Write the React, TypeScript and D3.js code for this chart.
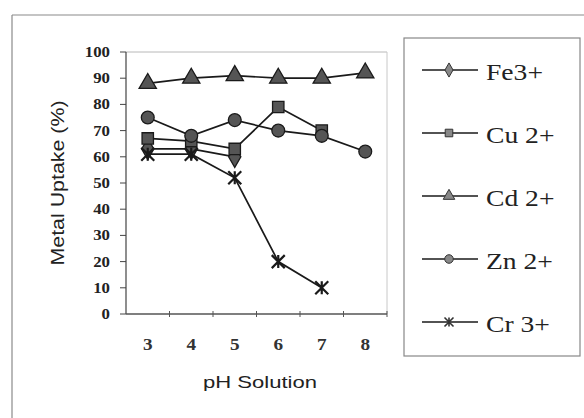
import React from "react";
import * as d3 from "d3";

const categories = ["3", "4", "5", "6", "7", "8"];
const seriesNames = ["Fe3+", "Cu 2+", "Cd 2+", "Zn 2+", "Cr 3+"];
const fe: (number | null)[] = [63, 63, 60, null, null, null];
const cu: (number | null)[] = [67, 66, 63, 79, 70, null];
const cd: (number | null)[] = [88, 90, 91, 90, 90, 92];
const zn: (number | null)[] = [75, 68, 74, 70, 68, 62];
const cr: (number | null)[] = [61, 61, 52, 20, 10, null];
const yTicks = [0, 10, 20, 30, 40, 50, 60, 70, 80, 90, 100];
const markerTypes = ["diamond", "square", "triangle", "circle", "star"];

const allSeries = [fe, cu, cd, zn, cr];

const W = 584;
const H = 418;
const plot = { left: 126, right: 387, top: 52, bottom: 314 };

function markerPath(type: string, size: number): string {
  if (type === "star") {
    const r = size / 2;
    return `M${-r},${-r}L${r},${r}M${-r},${r}L${r},${-r}M0,${-r}L0,${r}`;
  }
  const map: Record<string, d3.SymbolType> = {
    diamond: d3.symbolDiamond,
    square: d3.symbolSquare,
    triangle: d3.symbolTriangle,
    circle: d3.symbolCircle,
  };
  return d3.symbol().type(map[type]).size(size * size * 0.9)() || "";
}

export default function App() {
  const x = d3
    .scaleBand<string>()
    .domain(categories)
    .range([plot.left, plot.right]);
  const y = d3.scaleLinear().domain([0, 100]).range([plot.bottom, plot.top]);
  const cx = (c: string) => (x(c) ?? 0) + x.bandwidth() / 2;

  const line = d3
    .line<{ c: string; v: number | null }>()
    .defined((d) => d.v !== null)
    .x((d) => cx(d.c))
    .y((d) => y(d.v as number));

  const legendY = [70, 133, 196, 259, 322];
  const serif = "'Liberation Serif', 'Times New Roman', serif";
  const sans = "'Liberation Sans', Arial, sans-serif";

  return (
    <svg
      width={W}
      height={H}
      style={{ position: "absolute", left: 0, top: 0, background: "#fff" }}
    >
      {/* outer frame edges */}
      <line x1={12} y1={15} x2={W} y2={15} stroke="#8a8a8a" strokeWidth={1.2} />
      <line x1={12} y1={15} x2={12} y2={H} stroke="#8a8a8a" strokeWidth={1.2} />

      {/* plot frame */}
      <line x1={plot.left} y1={plot.top} x2={plot.right} y2={plot.top} stroke="#b8b8b8" strokeWidth={1} />
      <line x1={plot.right} y1={plot.top} x2={plot.right} y2={plot.bottom} stroke="#c8c8c8" strokeWidth={1} />

      {/* y axis */}
      <line x1={plot.left} y1={plot.top} x2={plot.left} y2={plot.bottom} stroke="#444" strokeWidth={1.2} />
      {yTicks.map((t) => (
        <g key={t}>
          <line x1={plot.left - 6} x2={plot.left} y1={y(t)} y2={y(t)} stroke="#444" strokeWidth={1} />
          <text
            transform={`translate(110,${y(t) + 5}) scale(1.2,1)`}
            textAnchor="end"
            fontFamily={serif}
            fontWeight="bold"
            fontSize={14}
            fill="#222"
          >
            {t}
          </text>
        </g>
      ))}

      {/* x axis */}
      <line x1={plot.left} y1={plot.bottom} x2={plot.right} y2={plot.bottom} stroke="#555" strokeWidth={1.3} />
      {categories.map((c) => (
        <g key={c}>
          <line
            x1={(x(c) ?? 0) + x.bandwidth()}
            x2={(x(c) ?? 0) + x.bandwidth()}
            y1={plot.bottom - 3}
            y2={plot.bottom + 3}
            stroke="#555"
            strokeWidth={1}
          />
          <text
            transform={`translate(${cx(c)},350) scale(1.2,1)`}
            textAnchor="middle"
            fontFamily={serif}
            fontWeight="bold"
            fontSize={16}
            fill="#333"
          >
            {c}
          </text>
        </g>
      ))}

      {/* axis titles */}
      <text
        x={260}
        y={388}
        textAnchor="middle"
        fontFamily={sans}
        fontSize={17}
        textLength={114}
        lengthAdjust="spacingAndGlyphs"
        fill="#222"
      >
        pH Solution
      </text>
      <text
        transform="translate(58,183) rotate(-90)"
        textAnchor="middle"
        dominantBaseline="central"
        fontFamily={sans}
        fontSize={18}
        textLength={165}
        lengthAdjust="spacingAndGlyphs"
        fill="#222"
      >
        Metal Uptake (%)
      </text>

      {/* series */}
      {allSeries.map((s, si) => {
        const data = categories.map((c, i) => ({ c, v: s[i] }));
        const type = markerTypes[si];
        return (
          <g key={si}>
            <path d={line(data) || ""} fill="none" stroke="#1a1a1a" strokeWidth={1.7} />
            {data
              .filter((d) => d.v !== null)
              .map((d, i) => (
                <path
                  key={i}
                  transform={`translate(${cx(d.c)},${y(d.v as number)})`}
                  d={markerPath(type, type === "star" ? 13 : 12)}
                  fill={type === "star" ? "none" : "#555"}
                  stroke="#1a1a1a"
                  strokeWidth={type === "star" ? 2.2 : 1.3}
                />
              ))}
          </g>
        );
      })}

      {/* legend */}
      <rect x={404} y={38} width={176} height={318} fill="none" stroke="#888" strokeWidth={1.2} />
      {seriesNames.map((name, i) => (
        <g key={name}>
          <line x1={422} x2={478} y1={legendY[i]} y2={legendY[i]} stroke="#1a1a1a" strokeWidth={1.6} />
          <path
            transform={`translate(449,${legendY[i]})`}
            d={markerPath(markerTypes[i], markerTypes[i] === "star" ? 9 : 8)}
            fill={markerTypes[i] === "star" ? "none" : "#888"}
            stroke="#333"
            strokeWidth={markerTypes[i] === "star" ? 1.6 : 1}
          />
          <text
            transform={`translate(486,${legendY[i] + 10}) scale(1.2,1)`}
            fontFamily={serif}
            fontSize={23}
            fill="#222"
          >
            {name}
          </text>
        </g>
      ))}
    </svg>
  );
}
